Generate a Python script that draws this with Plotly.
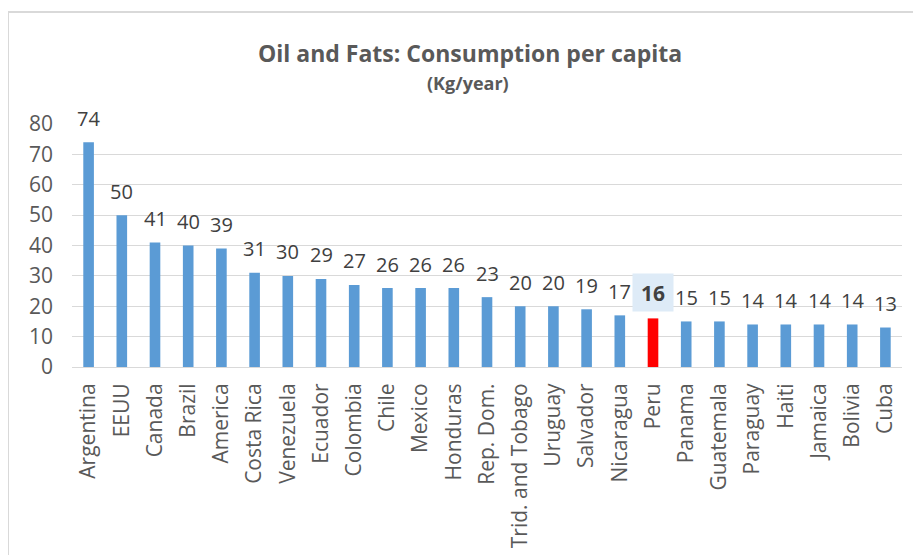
import plotly.graph_objects as go

countries = ["Argentina", "EEUU", "Canada", "Brazil", "America", "Costa Rica", "Venezuela",
             "Ecuador", "Colombia", "Chile", "Mexico", "Honduras", "Rep. Dom.",
             "Trid. and Tobago", "Uruguay", "Salvador", "Nicaragua", "Peru", "Panama",
             "Guatemala", "Paraguay", "Haiti", "Jamaica", "Bolivia", "Cuba"]
values = [74, 50, 41, 40, 39, 31, 30, 29, 27, 26, 26, 26, 23, 20, 20, 19, 17, 16, 15, 15,
          14, 14, 14, 14, 13]
highlight = "Peru"
y_ticks = [0, 10, 20, 30, 40, 50, 60, 70, 80]

BLUE = "#5B9BD5"
RED = "#FF0000"
FONT = "Open Sans"

# page has an 8px body margin; work in page pixels and subtract it
OFF = 8
W, H = 921 - OFF, 555 - OFF
PX0, PX1, PY0, PY1 = 72 - OFF, 902 - OFF, 124 - OFF, 367 - OFF
L, R, T, B = PX0, W - PX1, PY0, H - PY1
pw, ph = PX1 - PX0, PY1 - PY0


def px(x):
    return (x - OFF - PX0) / pw


def py(y):
    return (PY1 - (y - OFF)) / ph


colors = [RED if c == highlight else BLUE for c in countries]

fig = go.Figure()
fig.add_trace(go.Bar(x=countries, y=values, marker=dict(color=colors, line=dict(width=0)),
                     hoverinfo="x+y", cliponaxis=False))

annotations = []
for c, v in zip(countries, values):
    if c == highlight:
        annotations.append(dict(x=c, y=v, xref="x", yref="y", text=f"<b>{v}</b>",
                                showarrow=False, yanchor="middle", yshift=26,
                                font=dict(family=FONT, size=21, color="#404040"),
                                bgcolor="#DEEBF7", width=40, height=37, borderpad=0))
    else:
        annotations.append(dict(x=c, y=v, xref="x", yref="y", text=str(v),
                                showarrow=False, yanchor="middle", yshift=24,
                                font=dict(family=FONT, size=20, color="#404040")))

annotations.append(dict(x=px(470), y=py(53), xref="paper", yref="paper", yanchor="middle",
                        text="<b>Oil and Fats: Consumption per capita</b>", showarrow=False,
                        font=dict(family=FONT, size=23, color="#595959")))
annotations.append(dict(x=px(468), y=py(83), xref="paper", yref="paper", yanchor="middle",
                        text="<b>(Kg/year)</b>", showarrow=False,
                        font=dict(family=FONT, size=18, color="#595959")))

fig.update_layout(
    width=W, height=H,
    margin=dict(l=L, r=R, t=T, b=B, autoexpand=False),
    paper_bgcolor="white", plot_bgcolor="white",
    showlegend=False,
    bargap=0.68,
    annotations=annotations,
    xaxis=dict(type="category", tickangle=-90, showgrid=False, showline=True,
               linecolor="#D9D9D9", linewidth=1, ticks="", ticklabelstandoff=7,
               automargin=False,
               tickfont=dict(family=FONT, size=21, color="#595959")),
    yaxis=dict(range=[0, 80], tickvals=y_ticks, showgrid=True, gridcolor="#D9D9D9",
               gridwidth=1, zeroline=False, showline=False, ticks="",
               ticklabelstandoff=18, automargin=False,
               tickfont=dict(family=FONT, size=21, color="#595959")),
    shapes=[dict(type="rect", xref="paper", yref="paper",
                 x0=px(8), x1=px(940), y0=py(575), y1=py(12),
                 line=dict(color="#D9D9D9", width=2), fillcolor="rgba(0,0,0,0)",
                 layer="below")],
)

fig.write_html("out.html")
